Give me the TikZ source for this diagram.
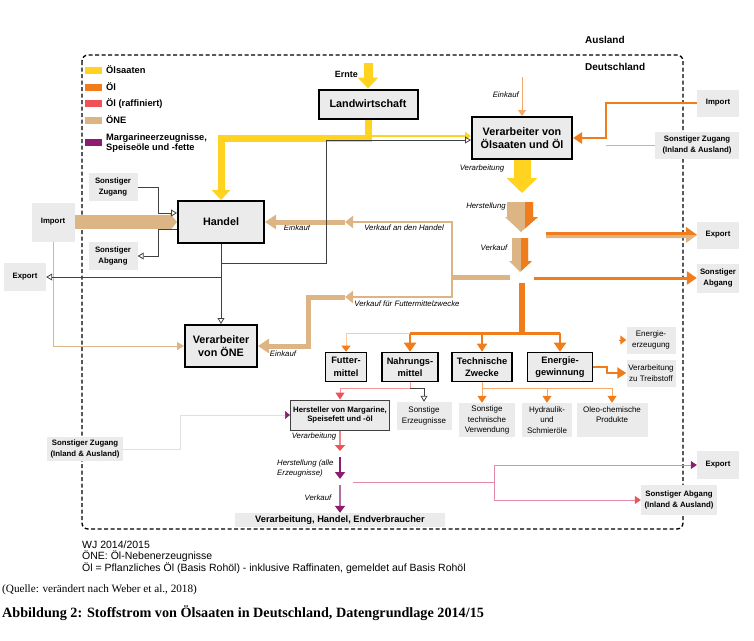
\documentclass[tikz,border=0pt]{standalone}
\usepackage{fontspec}
\setmainfont{Liberation Sans}
\newfontfamily\serifschrift{Liberation Serif}
\usetikzlibrary{arrows.meta}
\definecolor{saat}{HTML}{FFD320}
\definecolor{oel}{HTML}{F07C1C}
\definecolor{raff}{HTML}{EE5158}
\definecolor{one}{HTML}{DDB585}
\definecolor{marg}{HTML}{8C1C72}
\definecolor{kasten}{HTML}{EBEBEB}
\definecolor{hell}{HTML}{F6A868}
\definecolor{rosa}{HTML}{E58AA6}
\definecolor{grau}{HTML}{404040}
\newcommand{\fgr}[2]{\fontsize{#1}{#2}\selectfont}

\begin{document}
\begin{tikzpicture}[x=1pt,y=-1pt]
\tikzstyle{every node}=[inner sep=0pt,align=center]
\tikzstyle{haupt}=[draw,line width=2pt,fill=kasten,font=\bfseries\fgr{10.8}{13}]
\tikzstyle{klein}=[draw,line width=1.6pt,fill=kasten,font=\bfseries\fgr{9.3}{12.5}]
\tikzstyle{feld}=[fill=kasten,font=\bfseries\fgr{7.8}{10.5}]
\tikzstyle{feldd}=[fill=kasten,font=\fgr{8}{10.5}]
\tikzstyle{marke}=[font=\itshape\fgr{7.8}{10}]
\tikzstyle{leg}=[anchor=west,align=left,font=\bfseries\fgr{9.3}{10.5}]
\tikzstyle{offen}=[grau,line width=0.8pt,-{Triangle[open,length=6pt,width=7pt]}]
\useasboundingbox (0,0) rectangle (754,640);
\draw[line width=1.3pt,dash pattern=on 4pt off 2.5pt,rounded corners=6pt] (82,55) rectangle (683,529);
\node[anchor=west,font=\bfseries\fgr{10}{11}] (aus) at (585,40) {Ausland};
\node[anchor=west,font=\bfseries\fgr{10}{11}] (de) at (585,67) {Deutschland};

\fill[saat] (85,66.5) rectangle (102,73.5);
\node[leg] (l1) at (106,70) {Ölsaaten};
\fill[oel] (85,83.5) rectangle (102,90.5);
\node[leg] (l2) at (106,87) {Öl};
\fill[raff] (85,99.5) rectangle (102,106.5);
\node[leg] (l3) at (106,103) {Öl (raffiniert)};
\fill[one] (85,116.5) rectangle (102,123.5);
\node[leg] (l4) at (106,120) {ÖNE};
\fill[marg] (85,138.5) rectangle (102,145.5);
\node[leg] (l5) at (106,143) {Margarineerzeugnisse,\\Speiseöle und -fette};

\node[haupt,minimum width=99pt,minimum height=29pt] (lw) at (368,104) {Landwirtschaft};
\node[haupt,minimum width=100pt,minimum height=42pt] (ve) at (522,138) {Verarbeiter von\\Ölsaaten und Öl};
\node[haupt,minimum width=86pt,minimum height=42pt] (ha) at (221,222) {Handel};
\node[haupt,minimum width=72pt,minimum height=42pt] (ov) at (221,346) {Verarbeiter\\von ÖNE};
\node[klein,minimum width=41pt,minimum height=29pt] (fu) at (346,367) {Futter-\\mittel};
\node[klein,minimum width=56pt,minimum height=29pt] (na) at (410,367) {Nahrungs-\\mittel};
\node[klein,minimum width=60pt,minimum height=29pt] (te) at (482,367) {Technische\\Zwecke};
\node[klein,minimum width=65pt,minimum height=29pt] (en) at (560,367) {Energie-\\gewinnung};
\node[draw=grau,line width=1pt,fill=kasten,font=\bfseries\fgr{7.8}{9.7},minimum width=99pt,minimum height=30pt] (he) at (340,415) {Hersteller von Margarine,\\Speisefett und -öl};

\node[feld,minimum width=42pt,minimum height=27pt] (imr) at (718,103) {Import};
\node[feld,minimum width=84pt,minimum height=27pt] (szr) at (697,145) {Sonstiger Zugang\\(Inland \& Ausland)};
\node[feld,minimum width=42pt,minimum height=27pt] (exr) at (718,235) {Export};
\node[feld,minimum width=42pt,minimum height=29pt] (sar) at (718,278) {Sonstiger\\Abgang};
\node[feld,minimum width=49pt,minimum height=28pt] (szo) at (113,187) {Sonstiger\\Zugang};
\node[feld,minimum width=43pt,minimum height=39pt] (iml) at (53,222) {Import};
\node[feld,minimum width=49pt,minimum height=28pt] (sal) at (113,256) {Sonstiger\\Abgang};
\node[feld,minimum width=42pt,minimum height=28pt] (exl) at (25,277) {Export};
\node[feld,minimum width=76pt,minimum height=24pt] (szu) at (85,449) {Sonstiger Zugang\\(Inland \& Ausland)};
\node[feldd,minimum width=55pt,minimum height=28pt] (se) at (424,416) {Sonstige\\Erzeugnisse};
\node[feldd,minimum width=56pt,minimum height=34pt] (tv) at (487,420) {Sonstige\\technische\\Verwendung};
\node[feldd,minimum width=50pt,minimum height=34pt] (hy) at (547,420) {Hydraulik-\\und\\Schmieröle};
\node[feldd,minimum width=71pt,minimum height=34pt] (ol) at (612,420) {Oleo-chemische\\Produkte\\~};
\node[feldd,minimum width=49pt,minimum height=27pt] (ee) at (651,340) {Energie-\\erzeugung};
\node[feldd,minimum width=49pt,minimum height=27pt] (tr) at (651,373) {Verarbeitung\\zu Treibstoff};
\node[fill=kasten,font=\bfseries\fgr{9.3}{11},minimum width=210pt,minimum height=14pt] (vh) at (340,520) {Verarbeitung, Handel, Endverbraucher};
\node[feld,minimum width=42pt,minimum height=28pt] (ex2) at (718,465) {Export};
\node[feld,minimum width=76pt,minimum height=30pt] (sa2) at (679,500) {Sonstiger Abgang\\(Inland \& Ausland)};

\node[anchor=east,font=\bfseries\fgr{9}{10}] (ernte) at (358,74) {Ernte};
\node[marke,anchor=east] (m1) at (519,95) {Einkauf};
\node[marke] (m2) at (482,168) {Verarbeitung};
\node[marke] (m3) at (486,206) {Herstellung};
\node[marke] (m4) at (494,248) {Verkauf};
\node[marke] (m5) at (297,228) {Einkauf};
\node[marke] (m6) at (404,228) {Verkauf an den Handel};
\node[marke] (m7) at (407,304) {Verkauf für Futtermittelzwecke};
\node[marke] (m8) at (283,354) {Einkauf};
\node[marke] (m9) at (314,436) {Verarbeitung};
\node[marke,anchor=west,align=left] (m10) at (277,468) {Herstellung (alle\\Erzeugnisse)};
\node[marke] (m11) at (318,498) {Verkauf};

\coordinate (e0) at (368,63);
\coordinate (knick) at (221,138);
\coordinate (gelb) at (372,136);
\coordinate (v1) at (522,193);
\coordinate (ek) at (522,77);
\coordinate (r1) at (606,138);
\coordinate (r2) at (606,145);
\coordinate (r3) at (607,373);
\coordinate (ee0) at (619,340);
\coordinate (vk) at (522,283);
\coordinate (vt) at (522,333);
\coordinate (vr) at (534,278);
\coordinate (vl) at (510,277);
\coordinate (verz) at (452,277);
\coordinate (p1) at (345,222);
\coordinate (p2) at (345,297);
\coordinate (k2) at (308,297);
\coordinate (g1) at (221,263);
\coordinate (g2) at (326,140);
\coordinate (z1) at (158,213);
\coordinate (z2) at (158,229);
\coordinate (t1) at (482,388);
\coordinate (n1) at (410,388);
\coordinate (h1) at (340,451);
\coordinate (h2) at (340,457);
\coordinate (h3) at (340,479);
\coordinate (h4) at (340,485);
\coordinate (p3) at (353,482);
\coordinate (p4) at (494,482);
\coordinate (f1) at (180,415);

\draw[saat,line width=9pt,-{Triangle[length=11pt,width=20pt]}] (e0) -- (lw.north);
\draw[saat,line width=7pt,-{Triangle[length=10pt,width=18pt]}] (lw.south) |- (knick) -- (ha.north);
\draw[saat,line width=2.5pt,-{Triangle[length=6pt,width=8pt]}] (gelb) -- (ve.west |- gelb);
\draw[saat,line width=17pt,-{Triangle[length=15pt,width=30pt]}] (ve.south) -- (v1);
\fill[one,path picture={\fill[oel] (525,190) rectangle (560,240);}] (507,202) -- (533,202) -- (533,217) -- (538,217) -- (521,232) -- (505,217) -- (507,217) -- cycle;
\fill[one,path picture={\fill[oel] (521,230) rectangle (560,280);}] (512,238) -- (528,238) -- (528,261) -- (532,261) -- (520,272) -- (509,261) -- (512,261) -- cycle;
\fill[one,path picture={\fill[oel] (540,220) rectangle (700,235);}] (546,232) -- (686,232) -- (686,227) -- (697,235) -- (686,243) -- (686,238) -- (546,238) -- cycle;

\draw[hell,line width=0.8pt,-{Triangle[length=6pt,width=8pt]}] (ek) -- (ve.north);
\draw[oel,line width=2.5pt,-{Triangle[length=9pt,width=11pt]}] (imr.west) -| (r1) -- (ve.east);
\draw[hell,line width=0.7pt] (szr.west) -- (r2);

\draw[oel,line width=6pt] (vk) -- (vt);
\draw[oel,line width=3pt] (na.north |- vt) -- (en.north |- vt);
\draw[oel,line width=2.5pt,-{Triangle[length=9pt,width=12pt]}] (na.north |- vt) -- (na.north);
\draw[oel,line width=2.5pt,-{Triangle[length=9pt,width=12pt]}] (en.north |- vt) -- (en.north);
\draw[oel,line width=1.5pt,-{Triangle[length=8pt,width=10pt]}] (te.north |- vt) -- (te.north);
\draw[hell!60,line width=0.8pt,-{Triangle[length=6pt,width=9pt,color=oel]}] (na.north |- vt) -| (fu.north);
\draw[oel,line width=3pt,-{Triangle[length=10pt,width=13pt]}] (vr) -- (sar.west);
\draw[oel,line width=2.5pt,-{Triangle[length=9pt,width=11pt]}] (en.east) -| (r3) -- (tr.west);
\draw[oel,line width=1pt,-{Triangle[length=6pt,width=9pt]}] (ee0) -- (ee.west);

\draw[one,line width=5pt] (vl) -- (verz);
\draw[one,line width=2.5pt,-{Triangle[length=8pt,width=12pt]}] (verz) |- (p1);
\draw[one,line width=2.5pt,-{Triangle[length=8pt,width=12pt]}] (verz) |- (p2);
\draw[one,line width=5pt,-{Triangle[length=11pt,width=14pt]}] (p1) -- (ha.east);
\draw[one,line width=5pt,-{Triangle[length=11pt,width=14pt]}] (p2) -- (k2) |- (ov.east);
\draw[one,line width=14pt,-{Triangle[length=7pt,width=17pt]}] (iml.east) -- (ha.west);
\draw[one,line width=0.8pt,-{Triangle[length=7pt,width=8pt]}] (iml.south) |- (ov.west);

\draw[offen] (ha.south) -- (ov.north);
\draw[offen] (ha.south |- exl.east) -- (exl.east);
\draw[offen] (g1) -| (g2) -- (ve.west |- g2);
\draw[offen] (szo.east) -| (z1) -- (ha.west |- z1);
\draw[offen] (ha.west |- z2) -- (z2) |- (sal.east);

\draw[hell,line width=1pt,-{Triangle[length=7pt,width=9pt,color=oel]}] (te.south) -- (te.south |- tv.north);
\draw[hell,line width=1pt,-{Triangle[length=7pt,width=9pt,color=oel]}] (t1) -| (hy.north);
\draw[hell,line width=1pt,-{Triangle[length=7pt,width=9pt,color=oel]}] (t1) -| (ol.north);
\draw[raff!60,line width=1pt,-{Triangle[length=7pt,width=9pt,color=raff]}] (na.south) -- (n1) -| (he.north);
\draw[offen] (n1) -| (se.north);

\draw[raff!70,line width=1.5pt,-{Triangle[length=6pt,width=10pt,color=raff]}] (he.south) -- (h1);
\draw[marg,line width=1.8pt,-{Triangle[length=7pt,width=10pt]}] (h2) -- (h3);
\draw[marg!65,line width=1.8pt,-{Triangle[length=7pt,width=10pt,color=marg]}] (h4) -- (vh.north);
\draw[rosa,line width=0.8pt] (p3) -- (p4);
\draw[rosa,line width=0.8pt,-{Triangle[length=6pt,width=8pt,color=marg]}] (p4) |- (ex2.west);
\draw[rosa,line width=0.8pt,-{Triangle[length=6pt,width=8pt,color=raff]}] (p4) |- (sa2.west);
\draw[black!12,line width=0.6pt,-{Triangle[length=5pt,width=8pt,color=marg]}] (szu.east) -| (f1) -- (he.west);

\node[anchor=west,align=left,font=\fgr{10.5}{11.5}] (fuss) at (82,557) {WJ 2014/2015\\ÖNE: Öl-Nebenerzeugnisse\\Öl = Pflanzliches Öl (Basis Rohöl) - inklusive Raffinaten, gemeldet auf Basis Rohöl};
\node[anchor=west,font=\serifschrift\fgr{11.2}{12}] (quelle) at (2,590) {(Quelle: verändert nach Weber et al., 2018)};
\node[anchor=west,font=\serifschrift\bfseries\fgr{14.2}{16}] (abb) at (2,613) {Abbildung 2: Stoffstrom von Ölsaaten in Deutschland, Datengrundlage 2014/15};
\end{tikzpicture}
\end{document}
